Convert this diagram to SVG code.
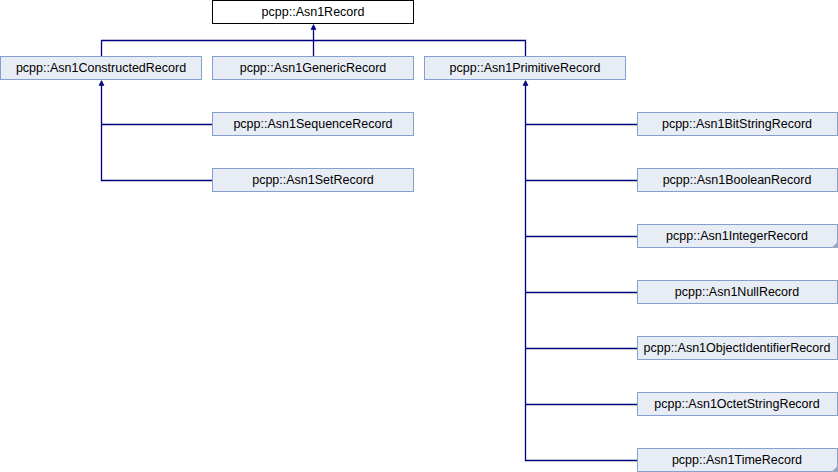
<svg xmlns="http://www.w3.org/2000/svg" width="838" height="472" viewBox="0 0 838 472">
<style>
.n rect{fill:#E8ECF5;stroke:#84A0D0;stroke-width:1}
.root rect{fill:#FFFFFF;stroke:#000000;stroke-width:1}
text{font-family:"Liberation Sans",Arial,sans-serif;font-size:12.5px;fill:#000000;text-anchor:middle}
.c path.l{fill:none;stroke:#000080;stroke-width:1.3}
.c path.ah{fill:#000080;stroke:#000080;stroke-width:0.6}
.more{fill:#9AA8C8}
</style>
<rect width="838" height="472" fill="#FFFFFF"/>
<g class="c">
<path class="l" d="M313.5,29 V56"/>
<path class="l" d="M101.5,56 V40.5 H525.5 V56"/>
<path class="l" d="M101.5,85 V180.5 H212"/>
<path class="l" d="M101.5,124.5 H212"/>
<path class="l" d="M525.5,85 V460.5 H637"/>
<path class="l" d="M525.5,124.5 H637"/>
<path class="l" d="M525.5,180.5 H637"/>
<path class="l" d="M525.5,236.5 H637"/>
<path class="l" d="M525.5,292.5 H637"/>
<path class="l" d="M525.5,348.5 H637"/>
<path class="l" d="M525.5,404.5 H637"/>
<path class="ah" d="M311,29.5 L313.5,24.5 L316,29.5 Z"/>
<path class="ah" d="M99,85.5 L101.5,80.5 L104,85.5 Z"/>
<path class="ah" d="M523,85.5 L525.5,80.5 L528,85.5 Z"/>
</g>
<g id="Asn1Record" class="root"><rect x="212.5" y="0.5" width="201" height="23"/><text x="313" y="16">pcpp::Asn1Record</text></g>
<g id="Asn1ConstructedRecord" class="n"><rect x="0.5" y="56.5" width="201" height="23"/><text x="101" y="72">pcpp::Asn1ConstructedRecord</text></g>
<g id="Asn1GenericRecord" class="n"><rect x="212.5" y="56.5" width="201" height="23"/><text x="313" y="72">pcpp::Asn1GenericRecord</text></g>
<g id="Asn1PrimitiveRecord" class="n"><rect x="424.5" y="56.5" width="201" height="23"/><text x="525" y="72">pcpp::Asn1PrimitiveRecord</text></g>
<g id="Asn1SequenceRecord" class="n"><rect x="212.5" y="112.5" width="201" height="23"/><text x="313" y="128">pcpp::Asn1SequenceRecord</text></g>
<g id="Asn1SetRecord" class="n"><rect x="212.5" y="168.5" width="201" height="23"/><text x="313" y="184">pcpp::Asn1SetRecord</text></g>
<g id="Asn1BitStringRecord" class="n"><rect x="637.5" y="112.5" width="200" height="23"/><text x="737" y="128">pcpp::Asn1BitStringRecord</text></g>
<g id="Asn1BooleanRecord" class="n"><rect x="637.5" y="168.5" width="200" height="23"/><text x="737" y="184">pcpp::Asn1BooleanRecord</text></g>
<g id="Asn1IntegerRecord" class="n"><rect x="637.5" y="224.5" width="200" height="23"/><text x="737" y="240">pcpp::Asn1IntegerRecord</text><path class="more" d="M837.5,242 V248 H831.5 Z"/></g>
<g id="Asn1NullRecord" class="n"><rect x="637.5" y="280.5" width="200" height="23"/><text x="737" y="296">pcpp::Asn1NullRecord</text></g>
<g id="Asn1ObjectIdentifierRecord" class="n"><rect x="637.5" y="336.5" width="200" height="23"/><text x="737" y="352">pcpp::Asn1ObjectIdentifierRecord</text></g>
<g id="Asn1OctetStringRecord" class="n"><rect x="637.5" y="392.5" width="200" height="23"/><text x="737" y="408">pcpp::Asn1OctetStringRecord</text></g>
<g id="Asn1TimeRecord" class="n"><rect x="637.5" y="448.5" width="200" height="23"/><text x="737" y="464">pcpp::Asn1TimeRecord</text><path class="more" d="M837.5,466 V472 H831.5 Z"/></g>
</svg>
